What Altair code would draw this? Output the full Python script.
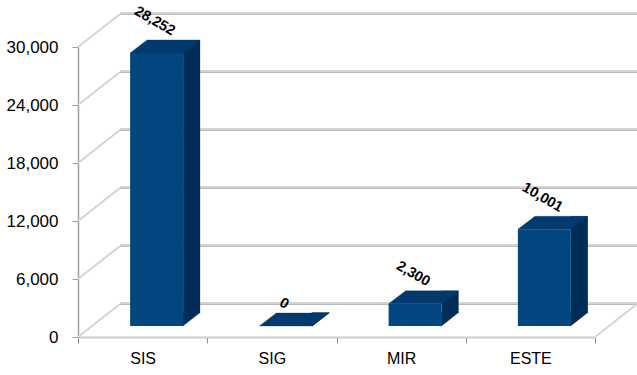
import altair as alt
import pandas as pd

# ---- data ----
categories = ["SIS", "SIG", "MIR", "ESTE"]
values = [28252, 0, 2300, 10001]
labels = ["28,252", "0", "2,300", "10,001"]
y_ticks = [0, 6000, 12000, 18000, 24000, 30000]

# ---- geometry / style ----
W, H = 517, 290
DX, DY = 42, -33      # depth of the back wall
BX, BY = 14, -11      # bar front face offset into the depth
BW = 53               # bar width
SX, SY = 17, -13      # bar depth
FRONT = "#02467F"
TOP = "#023A6E"
SIDE = "#002D58"
GRID = "#d4d4d4"
GRID_DARK = "#bcbcbc"
FONT = "Liberation Sans"

df = pd.DataFrame({"cat": categories, "value": values, "label": labels})
grid = pd.DataFrame({"v": y_ticks})

xs = alt.Scale(type="band", domain=categories, paddingInner=0, paddingOuter=0)
ys = alt.Scale(domain=[0, 30000], nice=False)

xaxis = alt.Axis(
    tickBand="extent", labelAngle=0, labelFontSize=16, labelFont=FONT,
    labelColor="#000000", labelPadding=7, tickSize=6, tickColor="#8c8c8c",
    domainColor="#cccccc", domainWidth=2, grid=False, title=None,
)
yaxis = alt.Axis(
    values=y_ticks, labelExpr="format(datum.value, ',')", labelFontSize=17,
    labelFont=FONT, labelColor="#000000", labelPadding=14, tickSize=6,
    tickColor="#a0a0a0", domainColor="#a0a0a0", domainWidth=1.5, grid=False,
    title=None,
)


def X():
    return alt.X("cat:N", scale=xs, sort=categories, axis=xaxis, title=None)


def Y(field):
    return alt.Y(field, scale=ys, axis=yaxis, title=None)


# back wall gridlines (two-tone)
back_grid = alt.Chart(grid).mark_rule(color=GRID, strokeWidth=2, yOffset=DY - 1).encode(
    x=alt.value(DX), x2=alt.value(W + DX), y=Y("v:Q"),
)
back_grid2 = alt.Chart(grid).mark_rule(color=GRID_DARK, strokeWidth=1, yOffset=DY + 0.5).encode(
    x=alt.value(DX), x2=alt.value(W + DX), y=Y("v:Q"),
)
# left wall diagonals
diag = alt.Chart(grid).mark_rule(color=GRID, strokeWidth=2, y2Offset=DY).encode(
    x=alt.value(0), x2=alt.value(DX), y=Y("v:Q"), y2="v:Q",
)
# floor right edge
floor_r = alt.Chart(grid).transform_filter("datum.v == 0").mark_rule(
    color=GRID, strokeWidth=2, y2Offset=DY
).encode(
    x=alt.value(W), x2=alt.value(W + DX), y=Y("v:Q"), y2="v:Q",
)

base = alt.Chart(df)

side = base.mark_bar(
    color=SIDE, size=SX, xOffset=BX + BW / 2 + SX / 2,
    yOffset=BY + SY, y2Offset=BY + SY,
).encode(x=X(), y=Y("value:Q"), y2=alt.datum(0))

side_tri = base.transform_calculate(zero="0").mark_point(
    shape="M-0.5,0.3 L-0.5,-13.5 L17,-13.5 Z", size=4, filled=True,
    fill=SIDE, stroke=SIDE, strokeWidth=0.3, opacity=1,
    xOffset=BX + BW / 2, yOffset=BY,
).encode(x=X(), y=Y("zero:Q"))

front = base.mark_bar(
    color=FRONT, size=BW, xOffset=BX, yOffset=BY, y2Offset=BY,
).encode(x=X(), y=Y("value:Q"), y2=alt.datum(0))

top = base.mark_point(
    shape="M-26.5,0 L26.5,0 L43.5,-13 L-9.5,-13 Z", size=4, filled=True,
    fill=TOP, stroke=TOP, strokeWidth=0.3, opacity=1,
    xOffset=BX, yOffset=BY,
).encode(x=X(), y=Y("value:Q"))

text = base.transform_calculate(
    ylab="datum.value + ((length(datum.label) * 7.6 * 0.5 + 12.4) / 2) * 30000 / 290"
).mark_text(
    angle=30, fontSize=14.5, fontWeight="bold", font=FONT, color="#000000",
    align="center", baseline="middle", xOffset=12, yOffset=BY + SY - 1,
).encode(x=X(), y=Y("ylab:Q"), text="label:N")

chart = alt.layer(
    back_grid, back_grid2, diag, floor_r, side, side_tri, front, top, text
).properties(
    width=W, height=H,
    autosize=alt.AutoSizeParams(type="none"),
    padding={"left": 78, "top": 47, "right": 42, "bottom": 38},
    background="white",
).configure_view(stroke=None)

chart.save("out.html", embed_options={"renderer": "svg", "actions": False})
